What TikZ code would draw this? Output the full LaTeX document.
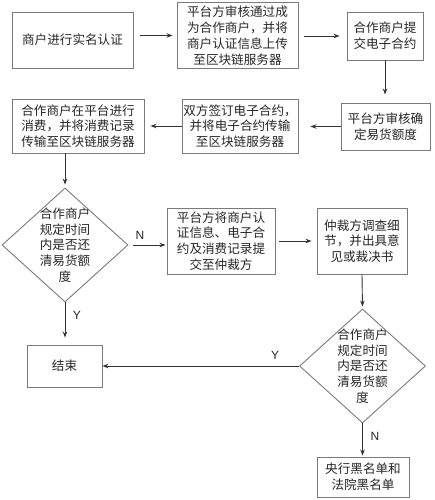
\documentclass[tikz,border=0pt]{standalone}
\usepackage{fontspec}
\setmainfont{Liberation Sans}
\newfontfamily\cjk{Noto Sans CJK SC}
\usetikzlibrary{arrows.meta,shapes.geometric}
\definecolor{boxc}{HTML}{7A7A7A}
\definecolor{arrc}{HTML}{333333}
\definecolor{txtc}{HTML}{262626}
\tikzset{
  box/.style={draw=boxc, line width=0.9pt, minimum width=#1, inner sep=0pt, align=center,
    font=\cjk\fontsize{12.6}{15.8}\selectfont, text=txtc},
  dia/.style={draw=boxc, line width=0.9pt, shape=diamond, inner sep=0pt,
    minimum width=126pt, minimum height=114pt},
  diatxt/.style={align=center, inner sep=0pt, font=\cjk\fontsize{12.6}{15.8}\selectfont, text=txtc},
  arr/.style={draw=arrc, line width=0.9pt, -{Stealth[length=6pt,width=4.5pt]}},
  lab/.style={font=\fontsize{12}{14}\selectfont, text=txtc, inner sep=0pt}
}
\begin{document}
\begin{tikzpicture}[x=1pt,y=-1pt]
\useasboundingbox (0,0) rectangle (434,500);
\node[box=121pt, minimum height=56pt] (A) at (72.5,40) {商户进行实名认证};
\node[box=121pt, minimum height=66pt] (B) at (237.5,35.5) {平台方审核通过成\\为合作商户，并将\\商户认证信息上传\\至区块链服务器};
\node[box=76pt, minimum height=48pt] (C) at (385,36) {合作商户提\\交电子合约};
\node[box=89pt, minimum height=47pt] (D) at (385.5,126.5) {平台方审核确\\定易货额度};
\node[box=116pt, minimum height=54pt] (E) at (240,126) {双方签订电子合约，\\并将电子合约传输\\至区块链服务器};
\node[box=132pt, minimum height=54pt] (F) at (78,126) {合作商户在平台进行\\消费，并将消费记录\\传输至区块链服务器};
\node[dia] (d1) at (65,245) {};
\node[diatxt] (d1t) at (65,245) {合作商户\\规定时间\\内是否还\\清易货额\\度};
\node[box=108pt, minimum height=66pt] (G) at (221,241) {平台方将商户认\\证信息、电子合\\约及消费记录提\\交至仲裁方};
\node[box=90pt, minimum height=66pt] (H) at (362,241) {仲裁方调查细\\节，并出具意\\见或裁决书};
\node[dia] (d2) at (362.5,366) {};
\node[diatxt] (d2t) at (362.5,366) {合作商户\\规定时间\\内是否还\\清易货额\\度};
\node[box=75pt, minimum height=42pt] (End) at (64.5,366) {结束};
\node[box=92pt, minimum height=40pt] (I) at (363,477) {央行黑名单和\\法院黑名单};

\draw[arr, shorten <=7pt, shorten >=4pt] (A.east |- B.west) -- (B.west);
\draw[arr, shorten <=6pt, shorten >=7pt] (B.east |- C.west) -- (C.west);
\draw[arr, shorten >=8pt] (C.south) -- (C.south |- D.north);
\draw[arr, shorten >=12pt] (D.west) -- (D.west -| E.east);
\draw[arr, shorten <=0pt, shorten >=6pt] (E.west) -- (E.west -| F.east);
\draw[arr, shorten >=3pt] (F.south -| d1.north) -- (d1.north);
\draw[arr, shorten <=5pt, shorten >=1pt] (d1.east) -- (d1.east -| G.west);
\node[lab] (N1) at (140,235) {N};
\draw[arr, shorten <=4pt, shorten >=5pt] (G.east) -- (H.west);
\draw[arr, shorten >=2pt] (H.south) -- (d2.north);
\draw[arr, shorten >=7pt] (d1.south) -- (d1.south |- End.north);
\node[lab] (Y1) at (77,315) {Y};
\draw[arr] (d2.west) -- (End.east);
\node[lab] (Y2) at (275,355) {Y};
\draw[arr, shorten >=1pt] (d2.south) -- (d2.south |- I.north);
\node[lab] (N2) at (375,436) {N};
\end{tikzpicture}
\end{document}
